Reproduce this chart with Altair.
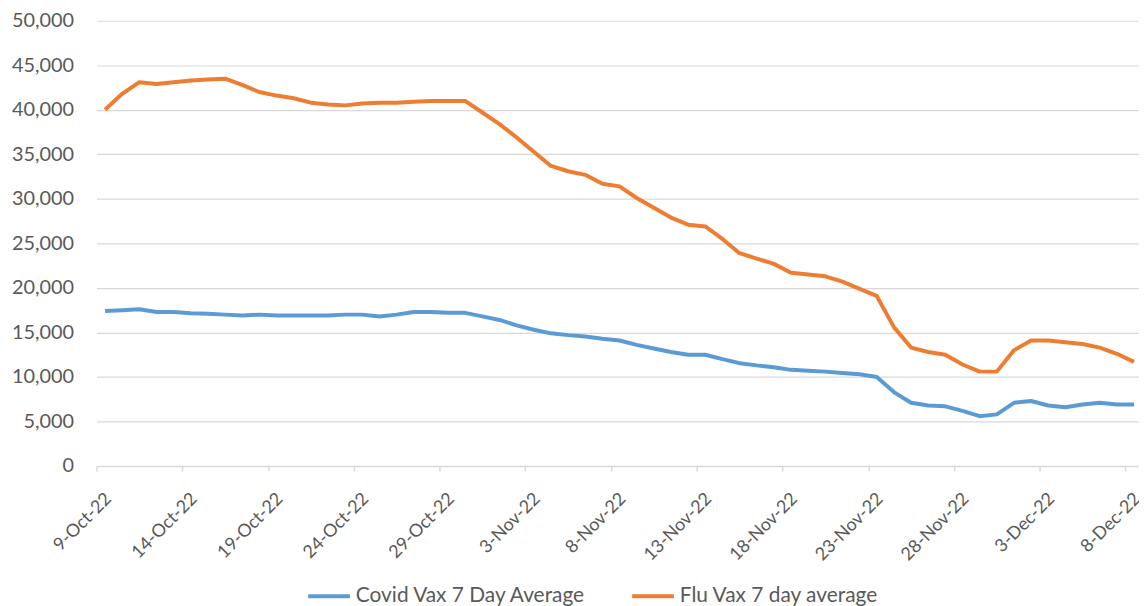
import altair as alt
import pandas as pd

start_date = "2022-10-09"
n_days = 61
dates = pd.date_range(start_date, periods=n_days, freq="D")

covid = [17400, 17500, 17600, 17300, 17300, 17150, 17100, 17000, 16900, 17000,
         16900, 16900, 16900, 16900, 17000, 17000, 16800, 17000, 17300, 17300,
         17200, 17200, 16800, 16400, 15800, 15300, 14900, 14700, 14550, 14300,
         14100, 13600, 13200, 12800, 12500, 12500, 12000, 11550, 11300, 11100,
         10800, 10700, 10600, 10450, 10300, 10000, 8300, 7100, 6800, 6700,
         6200, 5600, 5800, 7100, 7300, 6800, 6600, 6900, 7100, 6900, 6900]

flu = [40000, 41800, 43100, 42900, 43100, 43300, 43400, 43500, 42800, 42000,
       41600, 41300, 40800, 40600, 40500, 40700, 40800, 40800, 40900, 41000,
       41000, 41000, 39700, 38400, 36900, 35300, 33700, 33100, 32700, 31700,
       31400, 30100, 29000, 27900, 27100, 26900, 25500, 23900, 23300, 22700,
       21700, 21500, 21300, 20700, 19900, 19100, 15600, 13300, 12800, 12500,
       11400, 10600, 10600, 13000, 14100, 14100, 13900, 13700, 13300, 12600, 11700]

series_names = ["Covid Vax 7 Day Average", "Flu Vax 7 day average"]
series_colors = ["#5B9BD5", "#ED7D31"]
y_ticks = list(range(0, 50001, 5000))

# points sit in the middle of each day bucket (Excel date axis)
mid = [(d + pd.Timedelta(hours=12)).strftime("%Y-%m-%dT%H:%M:%SZ") for d in dates]
rows = []
for name, vals in zip(series_names, [covid, flu]):
    for t, v in zip(mid, vals):
        rows.append({"date": t, "value": v, "series": name})
df = pd.DataFrame(rows)

def ms(ts):
    return int(pd.Timestamp(ts, tz="UTC").value // 1_000_000)

domain = [ms(dates[0]), ms(dates[-1] + pd.Timedelta(hours=19))]
tick_vals = [ms(d) for d in dates[::5]]

FONT = "Lato"
GREY = "#595959"

chart = alt.Chart(df).mark_line(strokeWidth=4, strokeJoin="round").encode(
    x=alt.X("date:T",
            scale=alt.Scale(type="utc", domain=domain),
            axis=alt.Axis(values=tick_vals, format="%-d-%b-%y", title=None,
                          labelAngle=-45, labelAlign="right", labelBaseline="middle",
                          labelPadding=25, labelOffset=12, labelFontSize=18,
                          labelColor=GREY, labelFont=FONT,
                          grid=False, domainColor="#d9d9d9", domainWidth=1.5,
                          tickColor="#d9d9d9", tickSize=5, tickWidth=1.5,
                          labelOverlap=False, labelBound=False, labelFlush=False)),
    y=alt.Y("value:Q",
            scale=alt.Scale(domain=[0, 50000], nice=False),
            axis=alt.Axis(values=y_ticks, format=",d", title=None, domain=False,
                          ticks=False, labelPadding=23, labelFontSize=20,
                          labelColor=GREY, labelFont=FONT,
                          gridColor="#d9d9d9", gridWidth=1.2)),
    color=alt.Color("series:N",
                    scale=alt.Scale(domain=series_names, range=series_colors),
                    legend=alt.Legend(title=None, orient="none", direction="horizontal",
                                      legendX=211, legendY=556,
                                      symbolType="stroke", symbolSize=1764,
                                      symbolStrokeWidth=4, labelFontSize=21,
                                      labelFont=FONT, labelColor=GREY, labelLimit=0,
                                      labelOffset=4, columnPadding=38)),
).properties(
    width=1049,
    height=448,
    autosize=alt.AutoSizeParams(type="none"),
    padding={"left": 89, "top": 11, "right": 0, "bottom": 139},
).configure_view(stroke=None)

chart.save("out.html", embed_options={"renderer": "svg", "actions": False})
